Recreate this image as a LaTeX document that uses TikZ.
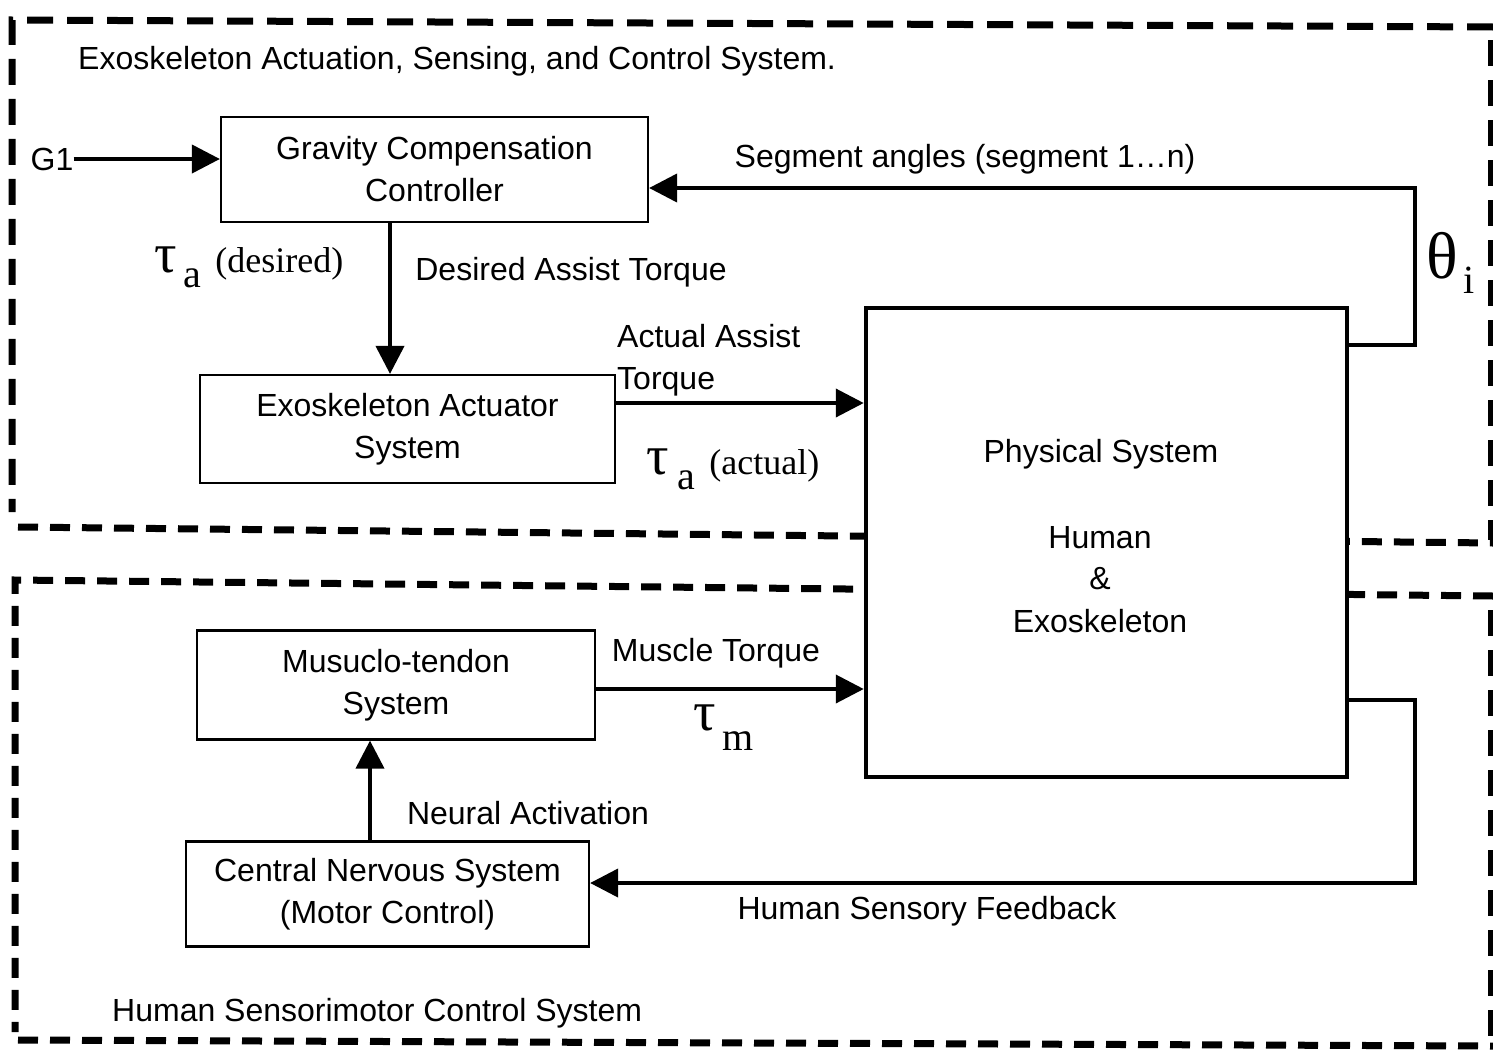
\documentclass[tikz,border=0pt]{standalone}
\usepackage{fontspec}
\setsansfont{Liberation Sans}
\newfontfamily\serifgr{Liberation Serif}
\usetikzlibrary{arrows.meta}
\begin{document}
\begin{tikzpicture}[x=1pt,y=-1pt,
  blk/.style={draw,line width=2.2pt,align=center,font=\sffamily\fontsize{32}{42}\selectfont,inner sep=0pt},
  lbl/.style={font=\sffamily\fontsize{32}{42}\selectfont,inner sep=0pt},
  arr/.style={line width=4pt,-{Triangle[length=28pt,width=28pt]}},
  dashbox/.style={line width=7pt,dash pattern=on 26pt off 14pt},
  dashlow/.style={line width=7pt,dash pattern=on 20pt off 12pt},
  grk/.style={inner sep=0pt,anchor=base west}]
\useasboundingbox (0,0) rectangle (1493,1063);
% dashed frames
\draw[dashbox] (1493,27) -- (12,20) -- (12,512);
\draw[dashlow] (18,527) -- (1493,543);
\draw[dashbox] (1491,40) -- (1491,540);
\draw[dashlow] (1493,596) -- (15,580) -- (15,1032);
\draw[dashlow] (18,1040) -- (1493,1046);
\draw[dashbox] (1491,610) -- (1491,1040);
% blocks
\node[blk,minimum width=427pt,minimum height=105pt] (gcc) at (434.5,169.5) {Gravity Compensation\\Controller};
\node[blk,minimum width=415pt,minimum height=108pt] (eas) at (407.5,429) {Exoskeleton Actuator\\System};
\node[blk,minimum width=398pt,minimum height=109pt] (mts) at (396,685) {Musuclo-tendon\\System};
\node[blk,minimum width=403pt,minimum height=105pt] (cns) at (387.5,894) {Central Nervous System\\(Motor Control)};
\node[draw,fill=white,line width=4.5pt,minimum width=481pt,minimum height=469pt,inner sep=0pt] (phys) at (1106.5,542.5) {};
\node[lbl] (pt1) at (1101,454) {Physical System};
\node[lbl] (pt2) at (1100,538) {Human};
\node[lbl] (pt3) at (1100,579) {\&};
\node[lbl] (pt4) at (1100,621) {Exoskeleton};
% titles and labels
\node[lbl,anchor=west] (t1) at (78,61) {Exoskeleton Actuation, Sensing, and Control System.};
\node[lbl,anchor=west] (t2) at (112,1013) {Human Sensorimotor Control System};
\node[lbl] (g1) at (52,159) {G1};
\node[lbl] (seg) at (965,159) {Segment angles (segment 1…n)};
\node[lbl] (dat) at (571,272) {Desired Assist Torque};
\node[lbl,anchor=north west,align=left] (aat) at (617,324) {Actual Assist\\Torque};
\node[lbl] (mt) at (716,653) {Muscle Torque};
\node[lbl] (na) at (528,813) {Neural Activation};
\node[lbl] (hsf) at (927,911) {Human Sensory Feedback};
% greek labels
\node[grk] (tad) at (154,272) {\serifgr\fontsize{56}{56}\selectfont τ\hspace{7pt}\raisebox{-15pt}{\fontsize{40}{40}\selectfont a}\hspace{14pt}\fontsize{36}{36}\selectfont (desired)};
\node[grk] (taa) at (646,474) {\serifgr\fontsize{56}{56}\selectfont τ\hspace{9pt}\raisebox{-15pt}{\fontsize{40}{40}\selectfont a}\hspace{14pt}\fontsize{36}{36}\selectfont (actual)};
\node[grk] (tm) at (693,730) {\serifgr\fontsize{56}{56}\selectfont τ\hspace{7pt}\raisebox{-20pt}{\fontsize{40}{40}\selectfont m}};
\node[grk] (th) at (1426,278) {\serifgr\fontsize{66}{66}\selectfont θ\hspace{6pt}\raisebox{-15pt}{\fontsize{40}{40}\selectfont i}};
% helper coordinates
\coordinate (dx) at (390,0);
\coordinate (nx) at (370,0);
\coordinate (fbx) at (1415,0);
\coordinate (ya) at (0,403);
\coordinate (ym) at (0,689);
\coordinate (ys1) at (0,345);
\coordinate (ys2) at (0,188);
\coordinate (yh1) at (0,700);
\coordinate (yh2) at (0,883);
% connectors
\draw[arr] (g1.east) -- (g1 -| gcc.west);
\draw[arr] (gcc.south -| dx) -- (eas.north -| dx);
\draw[arr] (eas.east |- ya) -- (phys.west |- ya);
\draw[arr] (mts.east |- ym) -- (phys.west |- ym);
\draw[arr] (cns.north -| nx) -- (mts.south -| nx);
\draw[arr] (phys.east |- ys1) -| (ys2 -| fbx) -- (gcc.east |- ys2);
\draw[arr] (phys.east |- yh1) -| (yh2 -| fbx) -- (cns.east |- yh2);
\end{tikzpicture}
\end{document}
